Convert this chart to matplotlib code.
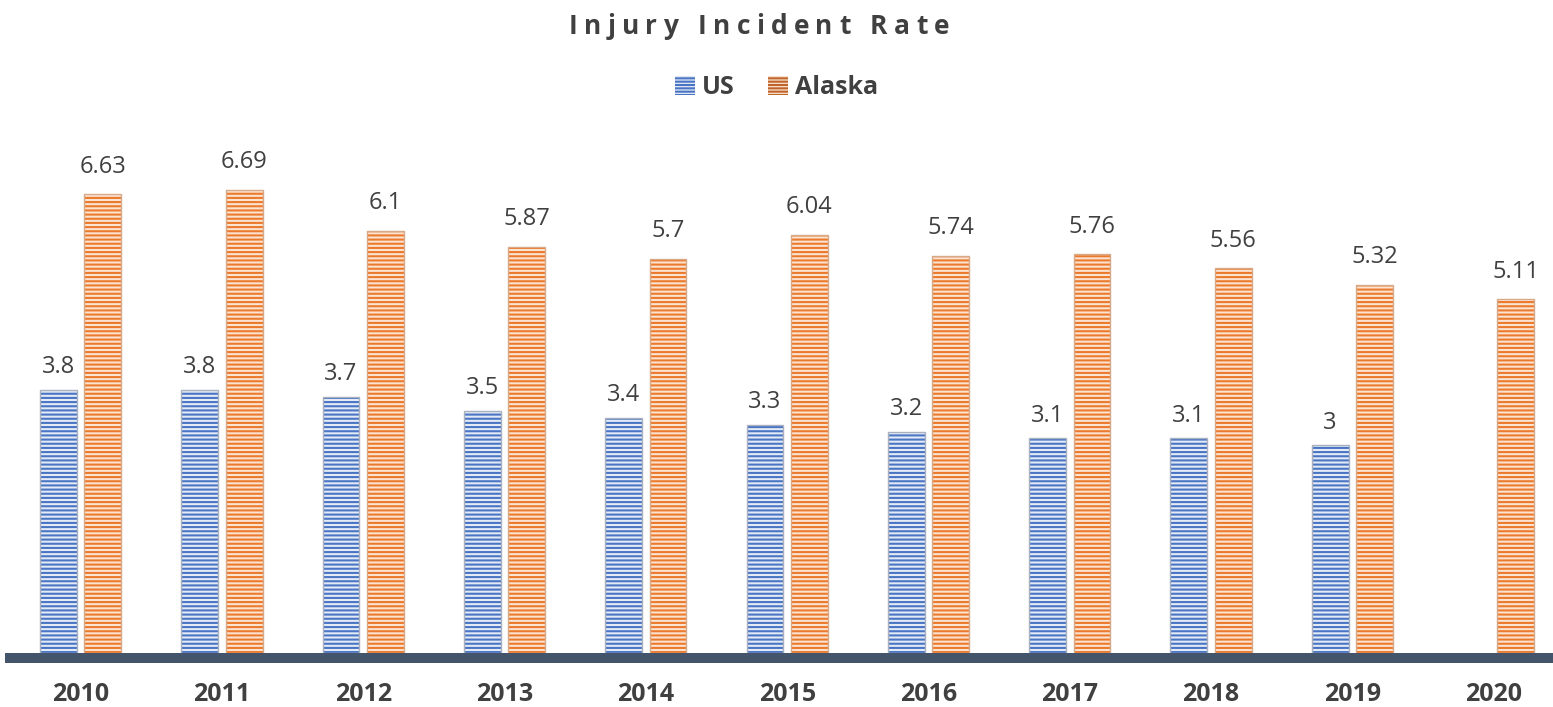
import numpy as np
import matplotlib.pyplot as plt
from matplotlib.patches import Patch

years = ['2010', '2011', '2012', '2013', '2014', '2015', '2016', '2017', '2018', '2019', '2020']
us = [3.8, 3.8, 3.7, 3.5, 3.4, 3.3, 3.2, 3.1, 3.1, 3.0, None]
alaska = [6.63, 6.69, 6.1, 5.87, 5.7, 6.04, 5.74, 5.76, 5.56, 5.32, 5.11]
us_labels = ['3.8', '3.8', '3.7', '3.5', '3.4', '3.3', '3.2', '3.1', '3.1', '3', '']
ak_labels = ['6.63', '6.69', '6.1', '5.87', '5.7', '6.04', '5.74', '5.76', '5.56', '5.32', '5.11']

plt.rcParams['font.family'] = ['Open Sans', 'DejaVu Sans']
plt.rcParams['hatch.linewidth'] = 1.5
text_col = '#404040'

fig = plt.figure(figsize=(15.53, 7.07), dpi=100)
ax = fig.add_axes([10/1553, 1 - 653/707, 1 - 10/1553, 519/707])

x = np.arange(len(years))
w = 0.26
off = 0.157

us_x = [xi - off for xi, v in zip(x, us) if v is not None]
us_v = [v for v in us if v is not None]
ax.bar(us_x, us_v, w, color='#e4ebf6', edgecolor='#4a74c4', hatch='----', linewidth=0)
ax.bar(x + off, alaska, w, color='#fbe3d2', edgecolor='#ec7a2c', hatch='----', linewidth=0)
# thin outlines
ax.bar(us_x, us_v, w, fill=False, edgecolor='#a9b1bf', linewidth=1.0)
ax.bar(x + off, alaska, w, fill=False, edgecolor='#d6a988', linewidth=1.0)

for xi, v, lab in zip(us_x, us_v, us_labels):
    ax.text(xi, v + 0.33, lab, ha='center', va='center', fontsize=17, color=text_col)
for xi, v, lab in zip(x + off, alaska, ak_labels):
    ax.text(xi, v + 0.4, lab, ha='center', va='center', fontsize=17, color=text_col)

ax.set_xlim(-0.5, 10.42)
ax.set_ylim(0, 7.5)
for s in ax.spines.values():
    s.set_visible(False)
ax.set_yticks([])
ax.set_xticks(x)
ax.set_xticklabels(years, fontsize=18, fontweight='bold', color=text_col)
ax.tick_params(axis='x', length=0, pad=21)
ax.axhline(-0.072, color='#44546a', linewidth=7.2, clip_on=False, zorder=5)

# letter-spaced title, placed one character at a time
title = 'Injury Incident Rate'
track = 6.3  # px between letters
renderer = fig.canvas.get_renderer()
widths = []
for ch in title:
    if ch == ' ':
        widths.append(7)
        continue
    t = fig.text(0, 0, ch, fontsize=19, fontweight='bold')
    widths.append(t.get_window_extent(renderer).width)
    t.remove()
total = sum(widths) + track * (len(title) - 1)
xpos = 759 - total / 2
for ch, cw in zip(title, widths):
    if ch != ' ':
        fig.text(xpos / 1553, 1 - 27/707, ch, ha='left', va='center',
                 fontsize=19, fontweight='bold', color=text_col)
    xpos += cw + track

handles = [Patch(facecolor='#e4ebf6', edgecolor='#4a74c4', hatch='-----', linewidth=0),
           Patch(facecolor='#fbe3d2', edgecolor='#c0652a', hatch='-----', linewidth=0)]
leg = fig.legend(handles, ['US', 'Alaska'], loc='center', bbox_to_anchor=(0.5, 1 - 88/707),
                 ncol=2, frameon=False, handlelength=0.8, handleheight=0.8, handletextpad=0.3,
                 columnspacing=1.3, prop={'size': 18, 'weight': 'bold'})
for t in leg.get_texts():
    t.set_color(text_col)

fig.savefig('out.png', dpi=100)
